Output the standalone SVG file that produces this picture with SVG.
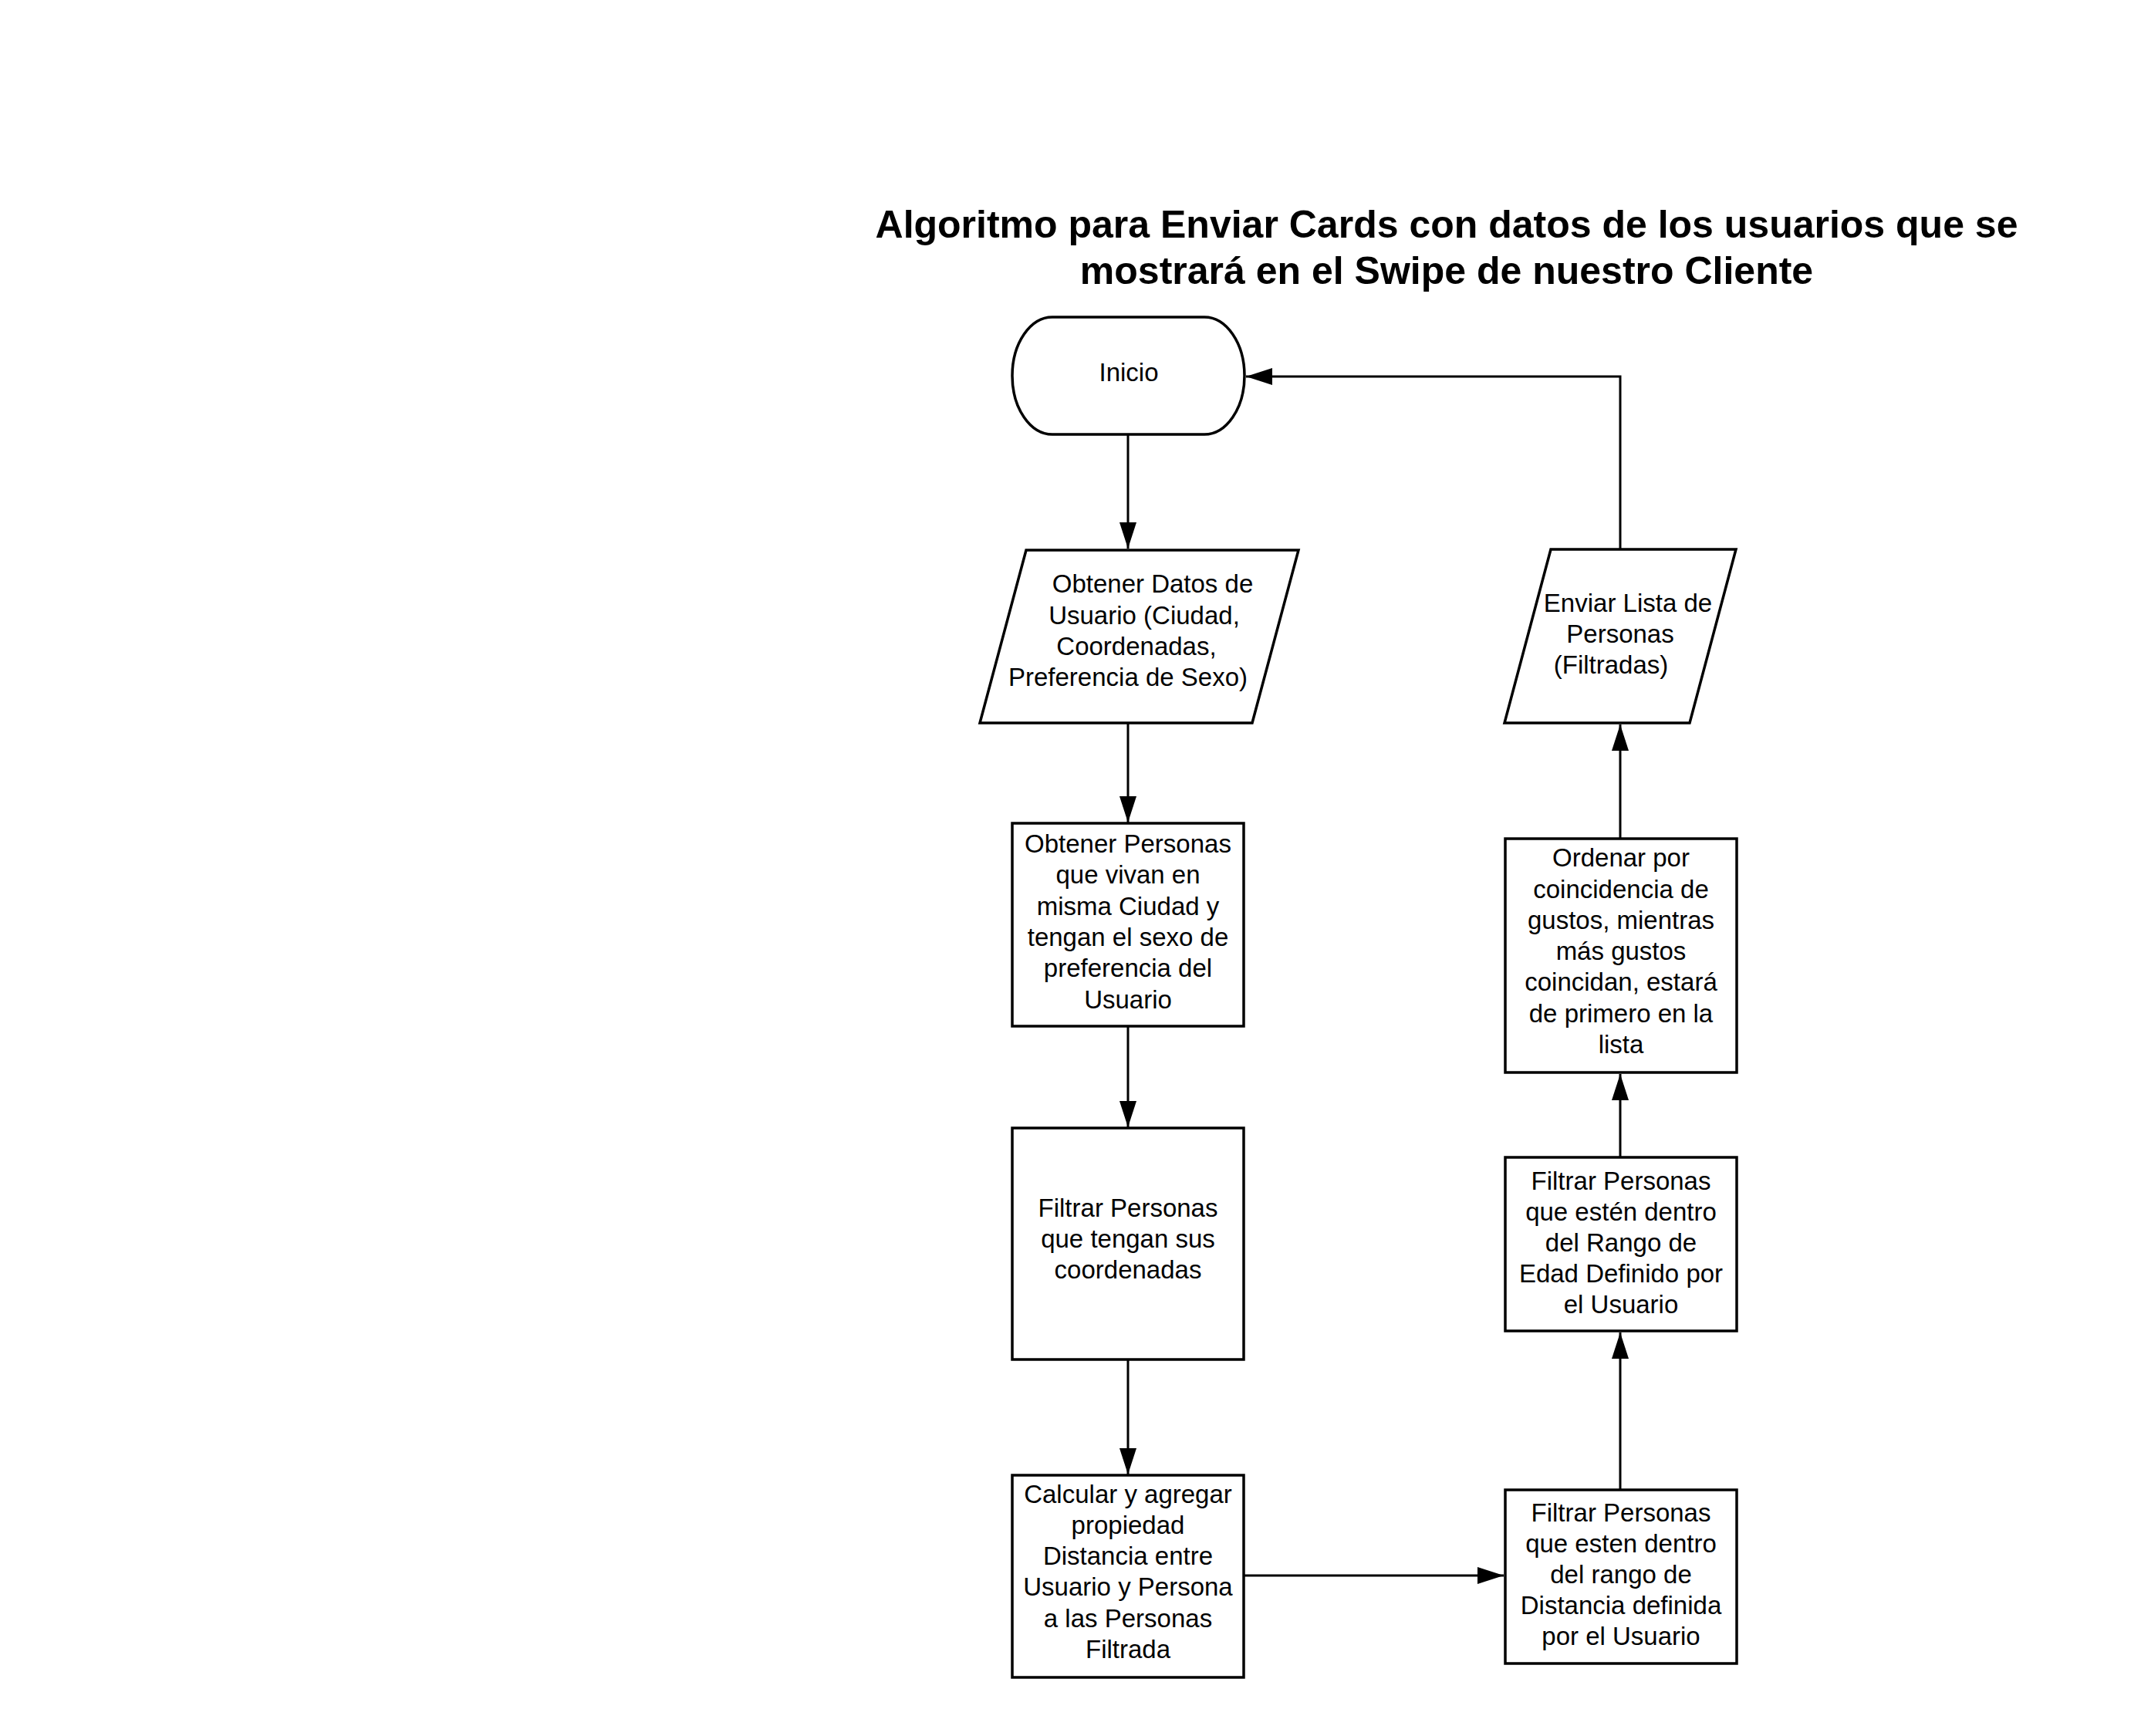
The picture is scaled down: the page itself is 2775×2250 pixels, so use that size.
<svg xmlns="http://www.w3.org/2000/svg" width="2775" height="2250" viewBox="0 0 2775 2250">
<style>
.shape{fill:#fff;stroke:#000;stroke-width:3.5}
.t{font-family:"Liberation Sans",Arial,sans-serif;font-size:33px;fill:#000;text-anchor:middle}
.title{font-family:"Liberation Sans",Arial,sans-serif;font-size:50px;font-weight:bold;fill:#000;text-anchor:middle}
.c{fill:none;stroke:#000;stroke-width:3;marker-end:url(#arr)}
</style>
<defs>
<marker id="arr" markerUnits="userSpaceOnUse" markerWidth="34" markerHeight="22" viewBox="0 0 34 22" refX="34" refY="11" orient="auto">
<path d="M0,0 L34,11 L0,22 Z" fill="#000"/>
</marker>
</defs>
<rect width="2775" height="2250" fill="#fff"/>
<g id="title">
<text class="title" x="1875" y="308">Algoritmo para Enviar Cards con datos de los usuarios que se</text>
<text class="title" x="1875" y="368">mostrará en el Swipe de nuestro Cliente</text>
</g>
<g id="connectors">
<path class="c" d="M1462,563 L1462,711"/>
<path class="c" d="M1462,937 L1462,1066"/>
<path class="c" d="M1462,1330 L1462,1461"/>
<path class="c" d="M1462,1762 L1462,1911"/>
<path class="c" d="M1612,2042 L1949,2042"/>
<path class="c" d="M2100,1931 L2100,1727"/>
<path class="c" d="M2100,1500 L2100,1392"/>
<path class="c" d="M2100,1087 L2100,939"/>
<path class="c" d="M2100,712 L2100,488 L1615,488"/>
</g>
<g id="inicio">
<rect class="shape" x="1312" y="411" width="301" height="152" rx="52" ry="76"/>
<text class="t" x="1463" y="494">Inicio</text>
</g>
<g id="obtener-datos">
<polygon class="shape" points="1330,713 1683,713 1623,937 1270,937"/>
<text class="t" x="1494" y="768">Obtener Datos de</text>
<text class="t" x="1483" y="809">Usuario (Ciudad,</text>
<text class="t" x="1473" y="849">Coordenadas,</text>
<text class="t" x="1462" y="889">Preferencia de Sexo)</text>
</g>
<g id="obtener-personas">
<rect class="shape" x="1312" y="1067" width="300" height="263"/>
<text class="t" x="1462" y="1105">Obtener Personas</text>
<text class="t" x="1462" y="1145">que vivan en</text>
<text class="t" x="1462" y="1186">misma Ciudad y</text>
<text class="t" x="1462" y="1226">tengan el sexo de</text>
<text class="t" x="1462" y="1266">preferencia del</text>
<text class="t" x="1462" y="1307">Usuario</text>
</g>
<g id="filtrar-coordenadas">
<rect class="shape" x="1312" y="1462" width="300" height="300"/>
<text class="t" x="1462" y="1577">Filtrar Personas</text>
<text class="t" x="1462" y="1617">que tengan sus</text>
<text class="t" x="1462" y="1657">coordenadas</text>
</g>
<g id="calcular-distancia">
<rect class="shape" x="1312" y="1912" width="300" height="262"/>
<text class="t" x="1462" y="1948">Calcular y agregar</text>
<text class="t" x="1462" y="1988">propiedad</text>
<text class="t" x="1462" y="2028">Distancia entre</text>
<text class="t" x="1462" y="2068">Usuario y Persona</text>
<text class="t" x="1462" y="2109">a las Personas</text>
<text class="t" x="1462" y="2149">Filtrada</text>
</g>
<g id="filtrar-distancia">
<rect class="shape" x="1951" y="1931" width="300" height="225"/>
<text class="t" x="2101" y="1972">Filtrar Personas</text>
<text class="t" x="2101" y="2012">que esten dentro</text>
<text class="t" x="2101" y="2052">del rango de</text>
<text class="t" x="2101" y="2092">Distancia definida</text>
<text class="t" x="2101" y="2132">por el Usuario</text>
</g>
<g id="filtrar-edad">
<rect class="shape" x="1951" y="1500" width="300" height="225"/>
<text class="t" x="2101" y="1542">Filtrar Personas</text>
<text class="t" x="2101" y="1582">que estén dentro</text>
<text class="t" x="2101" y="1622">del Rango de</text>
<text class="t" x="2101" y="1662">Edad Definido por</text>
<text class="t" x="2101" y="1702">el Usuario</text>
</g>
<g id="ordenar">
<rect class="shape" x="1951" y="1087" width="300" height="303"/>
<text class="t" x="2101" y="1123">Ordenar por</text>
<text class="t" x="2101" y="1164">coincidencia de</text>
<text class="t" x="2101" y="1204">gustos, mientras</text>
<text class="t" x="2101" y="1244">más gustos</text>
<text class="t" x="2101" y="1284">coincidan, estará</text>
<text class="t" x="2101" y="1325">de primero en la</text>
<text class="t" x="2101" y="1365">lista</text>
</g>
<g id="enviar-lista">
<polygon class="shape" points="2010,712 2250,712 2190,937 1950,937"/>
<text class="t" x="2110" y="793">Enviar Lista de</text>
<text class="t" x="2100" y="833">Personas</text>
<text class="t" x="2088" y="873">(Filtradas)</text>
</g>
</svg>
